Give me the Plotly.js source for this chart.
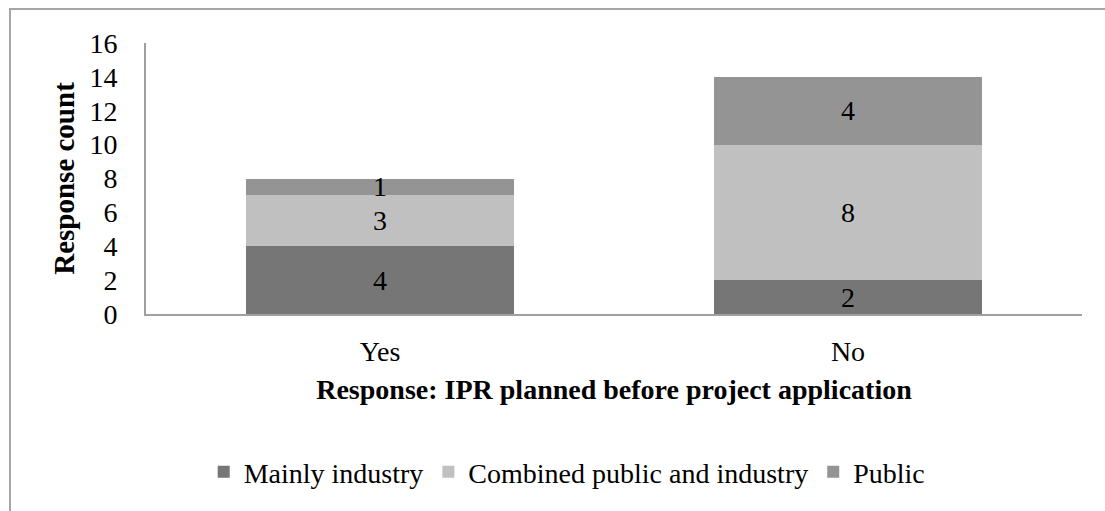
<!DOCTYPE html>
<html>
<head>
<meta charset="utf-8">
<script src="https://cdn.plot.ly/plotly-3.0.1.min.js"></script>
<style>
  html, body { margin: 0; padding: 0; background: #fff; }
  #wrap { position: relative; width: 1105px; height: 511px; overflow: hidden; }
  #chart { width: 1105px; height: 511px; }
  #frame { position: absolute; left: 9px; top: 8px; width: 1200px; height: 600px;
           border-top: 2px solid #a6a6a6; border-left: 2px solid #a6a6a6; pointer-events: none; }
</style>
</head>
<body>
<div id="wrap">
  <div id="chart"></div>
  <div id="frame"></div>
</div>
<script>
const categories = ["Yes", "No"];
const mainlyIndustry = [4, 2];
const combinedPublicIndustry = [3, 8];
const publicOnly = [1, 4];
const seriesNames = ["Mainly industry", "Combined public and industry", "Public"];
const yTickValues = [0, 2, 4, 6, 8, 10, 12, 14, 16];

const FONT = "'Liberation Serif', 'DejaVu Serif', serif";
const colors = ["#767676", "#c0c0c0", "#949494"];
const seriesData = [mainlyIndustry, combinedPublicIndustry, publicOnly];

const traces = seriesData.map((vals, i) => ({
  type: "bar",
  name: seriesNames[i],
  x: categories,
  y: vals,
  text: vals.map(String),
  textposition: "inside",
  insidetextanchor: "middle",
  textangle: 0,
  constraintext: "none",
  textfont: { family: FONT, size: 28, color: "#000" },
  marker: { color: colors[i], line: { width: 0 } },
  hoverinfo: "skip"
}));

const layout = {
  width: 1105,
  height: 511,
  barmode: "stack",
  bargap: 0.427,
  paper_bgcolor: "#fff",
  plot_bgcolor: "#fff",
  margin: { l: 146, r: 23, t: 43, b: 197, pad: 0 },
  font: { family: FONT, size: 28, color: "#000" },
  showlegend: true,
  legend: {
    orientation: "h",
    x: 0.45,
    xanchor: "center",
    y: -0.583,
    yanchor: "middle",
    font: { family: FONT, size: 28, color: "#000" },
    traceorder: "normal",
    itemclick: false,
    itemdoubleclick: false
  },
  xaxis: {
    type: "category",
    showline: true,
    linecolor: "#a0a0a0",
    linewidth: 2,
    ticks: "",
    ticklabelstandoff: 11,
    showgrid: false,
    zeroline: false,
    tickfont: { family: FONT, size: 28, color: "#000" },
    title: {
      text: "<b>Response: IPR planned before project application</b>",
      font: { family: FONT, size: 28, color: "#000" },
      standoff: 14
    }
  },
  yaxis: {
    range: [0, 16],
    tickvals: yTickValues,
    ticktext: yTickValues.map(String),
    showline: true,
    linecolor: "#a0a0a0",
    linewidth: 2,
    ticks: "",
    ticklabelstandoff: 21,
    showgrid: false,
    zeroline: false,
    tickfont: { family: FONT, size: 28, color: "#000" },
    title: {
      text: "<b>Response count</b>",
      font: { family: FONT, size: 29, color: "#000" },
      standoff: 6
    }
  }
};

Plotly.newPlot("chart", traces, layout, { displayModeBar: false, staticPlot: true });
</script>
</body>
</html>
